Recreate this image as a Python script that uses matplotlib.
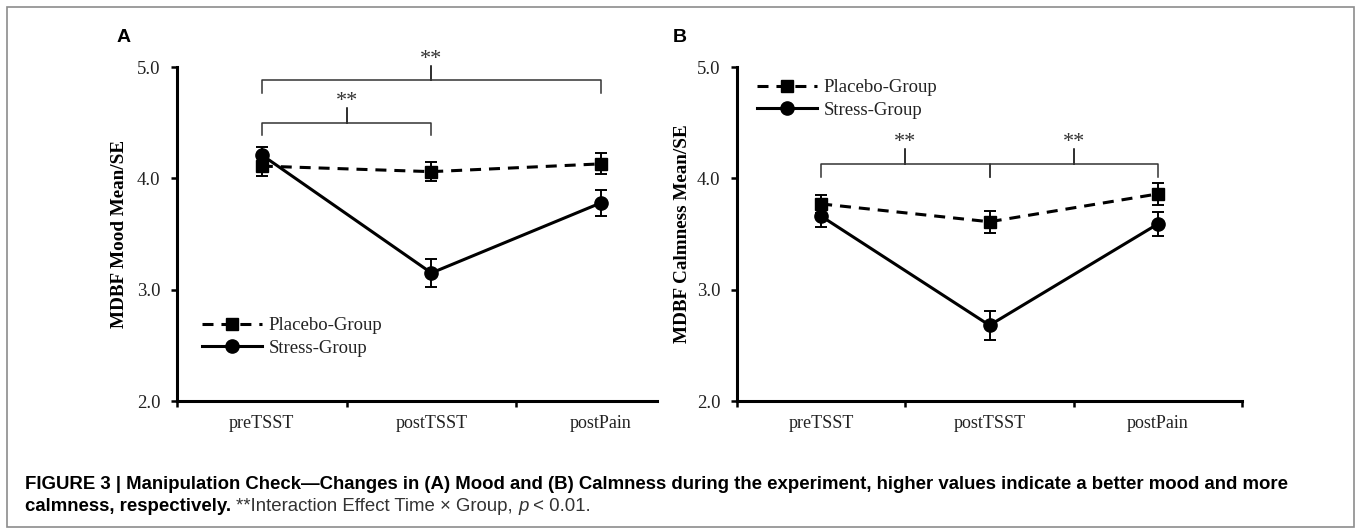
import matplotlib
matplotlib.use("Agg")
import matplotlib.pyplot as plt
from matplotlib.patches import Rectangle

# ======================================
# data
# ======================================

time_labels = ["preTSST", "postTSST", "postPain"]

mood_placebo = [4.11, 4.06, 4.13]
mood_placebo_se = [0.09, 0.085, 0.095]
mood_stress = [4.21, 3.15, 3.78]
mood_stress_se = [0.07, 0.125, 0.115]

calm_placebo = [3.77, 3.61, 3.86]
calm_placebo_se = [0.08, 0.10, 0.10]
calm_stress = [3.66, 2.68, 3.59]
calm_stress_se = [0.10, 0.13, 0.11]

y_ticks = [2.0, 3.0, 4.0, 5.0]

# significance braces: (from, to, bar level, label)
mood_braces = [(0, 2, 4.88, "**"), (0, 1, 4.50, "**")]
calm_braces = [(0, 1, 4.13, "**"), (1, 2, 4.13, "**")]

# ======================================
# figure
# ======================================

W, H = 1356, 529
fig = plt.figure(figsize=(W / 100, H / 100), dpi=100)

SERIF = ["Liberation Serif", "DejaVu Serif"]
SANS = ["Liberation Sans", "DejaVu Sans"]
LW = 2.2
FS = 13.5


def fx(x):
    return x / W


def fy(y):
    return 1 - y / H


def draw_brace(ax, i0, i1, level, label):
    x0 = i0 + 0.5
    x1 = i1 + 0.5
    xm = (x0 + x1) / 2
    drop = 0.115
    rise = 0.13
    ax.plot(
        [x0, x0, xm, xm, xm, x1, x1],
        [level - drop, level, level, level + rise, level, level, level - drop],
        color="#333333",
        lw=1.1,
        clip_on=False,
        solid_joinstyle="round",
        zorder=1
    )
    ax.text(
        xm,
        level + rise + 0.06,
        label,
        ha="center",
        va="center",
        fontsize=16,
        family=SERIF,
        color="#333333"
    )


def draw_panel(ax, placebo, placebo_se, stress, stress_se, braces,
               ylabel, xmax, major_ticks, legend_xy, label_x):

    xs = [i + 0.5 for i in range(len(time_labels))]

    ax.errorbar(
        xs, placebo, yerr=placebo_se,
        color="black", lw=LW, ls=(0, (3.6, 2.6)),
        marker="s", ms=8.5,
        ecolor="black", elinewidth=1.4, capsize=4.5, capthick=1.4,
        label="Placebo-Group", zorder=3
    )
    ax.errorbar(
        xs, stress, yerr=stress_se,
        color="black", lw=LW, ls="-",
        marker="o", ms=9.5,
        ecolor="black", elinewidth=1.4, capsize=4.5, capthick=1.4,
        label="Stress-Group", zorder=4
    )

    for b in braces:
        draw_brace(ax, *b)

    ax.set_xlim(0, xmax)
    ax.set_ylim(2.0, 5.0)

    ax.set_yticks(y_ticks)
    ax.set_yticklabels([f"{v:.1f}" for v in y_ticks])

    ax.set_xticks(major_ticks)
    ax.set_xticklabels([""] * len(major_ticks))
    ax.set_xticks(xs, minor=True)
    ax.set_xticklabels(time_labels, minor=True)

    ax.tick_params(axis="both", which="major", direction="out",
                   length=4, width=1.8, labelsize=FS, color="black")
    ax.tick_params(axis="y", which="major", pad=8)
    ax.tick_params(axis="x", which="minor", length=0, labelsize=13, pad=10)

    for t in ax.get_xticklabels(minor=True) + ax.get_yticklabels():
        t.set_family(SERIF)
        t.set_color("#222222")

    for s in ["top", "right"]:
        ax.spines[s].set_visible(False)
    for s in ["left", "bottom"]:
        ax.spines[s].set_linewidth(LW)
        ax.spines[s].set_capstyle("projecting")

    ax.set_ylabel(ylabel, family=SERIF, fontsize=13.8, fontweight="bold")
    ax.yaxis.set_label_coords(label_x, 0.5)

    handles, labels = ax.get_legend_handles_labels()
    handles = [h[0] for h in handles]
    leg = ax.legend(
        handles, labels,
        loc="upper left",
        bbox_to_anchor=(fx(legend_xy[0]), fy(legend_xy[1])),
        bbox_transform=fig.transFigure,
        frameon=False,
        borderpad=0,
        borderaxespad=0,
        handlelength=3.2,
        handletextpad=0.35,
        labelspacing=0.3,
        prop={"family": SERIF, "size": FS}
    )
    for t in leg.get_texts():
        t.set_color("#222222")


# panel A
axA = fig.add_axes([fx(177), fy(401), (657 - 177) / W, (401 - 67) / H])
draw_panel(axA, mood_placebo, mood_placebo_se, mood_stress, mood_stress_se,
           mood_braces, "MDBF Mood Mean/SE", 2.83, [0, 1, 2],
           (202, 317), -0.102)

# panel B
axB = fig.add_axes([fx(737), fy(401), (1242 - 737) / W, (401 - 67) / H])
draw_panel(axB, calm_placebo, calm_placebo_se, calm_stress, calm_stress_se,
           calm_braces, "MDBF Calmness Mean/SE", 3.0, [0, 1, 2, 3],
           (757, 79), -0.091)

fig.text(fx(117), fy(38), "A", family=SANS, fontsize=14, fontweight="bold",
         va="center", ha="left")
fig.text(fx(673), fy(38), "B", family=SANS, fontsize=14, fontweight="bold",
         va="center", ha="left")

# border
fig.patches.append(Rectangle(
    (fx(7), fy(527)), (1354 - 7) / W, (527 - 7) / H,
    transform=fig.transFigure, fill=False, edgecolor="#8c8c8c", lw=1.2
))

# ======================================
# caption
# ======================================

CAP = 13.4
fig.text(
    fx(25), fy(489),
    "FIGURE 3 | Manipulation Check\u2014Changes in (A) Mood and (B) Calmness "
    "during the experiment, higher values indicate a better mood and more",
    family=SANS, fontsize=CAP, fontweight="bold", va="baseline", ha="left"
)

renderer = fig.canvas.get_renderer()
parts = [
    ("calmness, respectively. ", "bold", "normal", "black"),
    ("**Interaction Effect Time \u00d7 Group, ", "normal", "normal", "#333333"),
    ("p", "normal", "italic", "#333333"),
    (" < 0.01.", "normal", "normal", "#333333"),
]
x_px = 25
for txt, weight, style, col in parts:
    t = fig.text(fx(x_px), fy(511), txt, family=SANS, fontsize=CAP,
                 fontweight=weight, fontstyle=style, color=col,
                 va="baseline", ha="left")
    bb = t.get_window_extent(renderer=renderer)
    x_px += bb.width

fig.savefig("out.png", dpi=100)
